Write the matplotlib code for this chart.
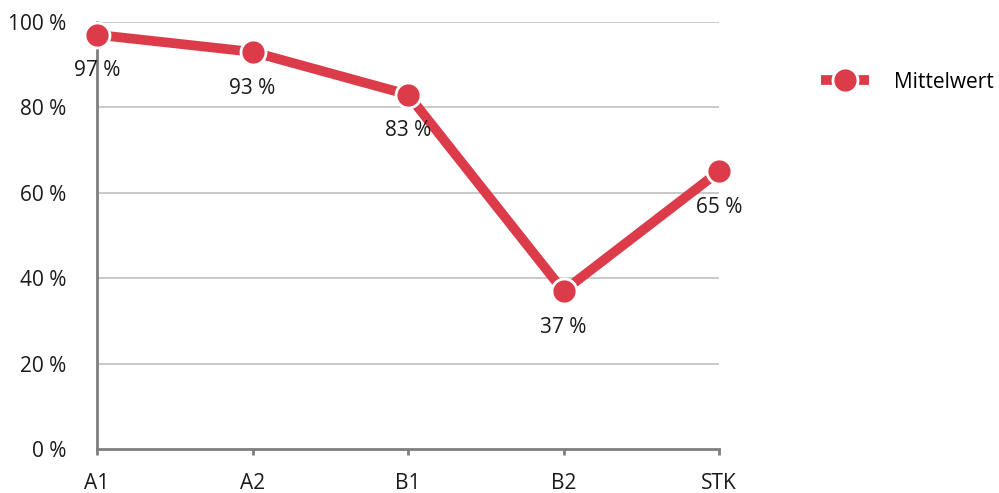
import matplotlib
matplotlib.use("Agg")
import matplotlib.pyplot as plt
from matplotlib.lines import Line2D

categories = ["A1", "A2", "B1", "B2", "STK"]
values = [97, 93, 83, 37, 65]
y_ticks = [0, 20, 40, 60, 80, 100]
y_tick_labels = ["0 %", "20 %", "40 %", "60 %", "80 %", "100 %"]
series_name = "Mittelwert"

red = "#DC3C4A"
plt.rcParams['font.family'] = ['Open Sans', 'DejaVu Sans']
fs = 15

fig = plt.figure(figsize=(9.99, 4.93), dpi=100)
ax = fig.add_axes([97/999, 1-449/493, (719-97)/999, (449-22)/493])

x = list(range(len(categories)))
ax.plot(x, values, color=red, lw=7, solid_capstyle='butt', zorder=3, clip_on=False)
ax.plot(x, values, 'o', color=red, ms=18, mec='white', mew=2, zorder=4, clip_on=False)

for xi, v in zip(x, values):
    ax.annotate(f"{v} %", (xi, v), xytext=(0, -26), textcoords='offset points',
                ha='center', va='center', fontsize=fs, color='#1a1a1a', zorder=5)

ax.set_xlim(0, len(categories)-1)
ax.set_ylim(0, 100)
ax.set_xticks(x)
ax.set_xticklabels(categories, fontsize=fs, color='#1a1a1a')
ax.set_yticks(y_ticks)
ax.set_yticklabels(y_tick_labels, fontsize=fs, color='#1a1a1a')
ax.tick_params(axis='y', length=0, pad=22)
ax.tick_params(axis='x', length=4, width=2, color='#7f7f7f', pad=13)
for yv in y_ticks[1:]:
    ax.axhline(yv, color='#c0c0c0', lw=1.2, zorder=1)
for s in ['top', 'right']:
    ax.spines[s].set_visible(False)
for s in ['left', 'bottom']:
    ax.spines[s].set_color('#7f7f7f')
    ax.spines[s].set_linewidth(2)

handle = Line2D([0], [0], color=red, lw=7, marker='o', ms=18, mec='white', mew=2,
                solid_capstyle='butt')
leg = fig.legend([handle], [series_name], loc='center left',
                 bbox_to_anchor=(802/999, 1-82/493), frameon=False,
                 fontsize=fs, handlelength=2.3, handletextpad=1.2)
fig.savefig("out.png", dpi=100)
